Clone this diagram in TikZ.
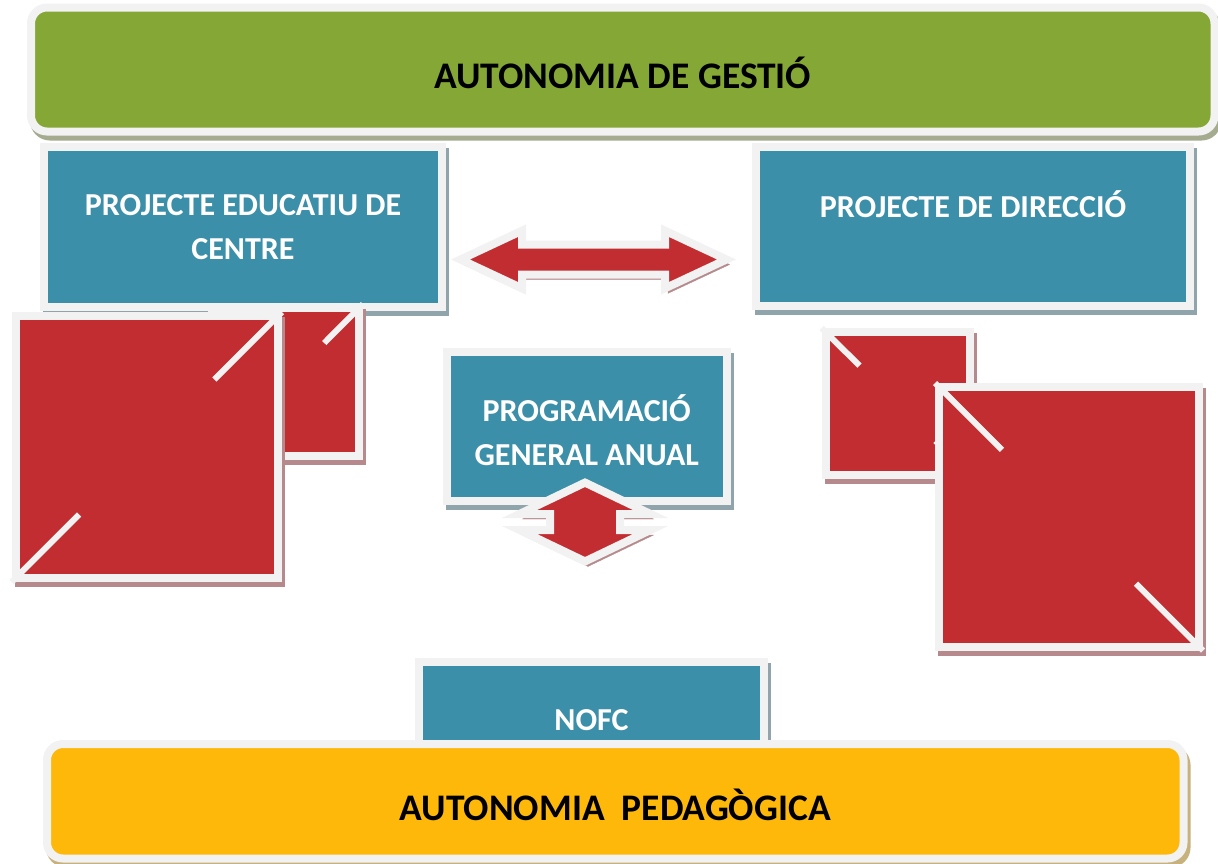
\documentclass[tikz,border=0pt]{standalone}
\usepackage{fontspec}
\setmainfont{Carlito}
\usepackage{tikz}
\usetikzlibrary{positioning,calc,shadows}
\definecolor{gestioclr}{RGB}{132,167,53}
\definecolor{projclr}{RGB}{60,143,168}
\definecolor{squareclr}{RGB}{193,45,48}
\definecolor{pedagclr}{RGB}{253,184,10}
\definecolor{borderclr}{RGB}{242,242,242}
\definecolor{gestioshd}{RGB}{164,171,143}
\definecolor{projshd}{RGB}{143,164,171}
\definecolor{squareshd}{RGB}{182,138,140}
\definecolor{pedagshd}{RGB}{199,177,125}
\tikzset{
  framed/.style={draw=borderclr, line width=8pt, inner sep=0pt,
    drop shadow={shadow xshift=3pt, shadow yshift=-5pt, opacity=1, fill=#1, draw=#1}},
  band/.style={framed=#1, rounded corners=16pt, text=black,
    text height=38pt, text depth=0pt,
    font=\bfseries\fontsize{37.5}{44}\selectfont},
  projbox/.style={framed=projshd, fill=projclr, text=white, align=center,
    font=\bfseries\fontsize{32}{44}\selectfont},
  redsquare/.style={framed=squareshd, fill=squareclr},
  diag/.style={draw=borderclr, line width=6pt},
  blockarrow/.style={framed=squareshd, fill=squareclr},
}
\begin{document}
\begin{tikzpicture}[x=1pt,y=-1pt]
\useasboundingbox (0,0) rectangle (1218,863);
\node[band=gestioshd, fill=gestioclr, minimum width=1183.5pt, minimum height=124pt] (gestio) at (622.75,69.5) {AUTONOMIA DE GESTIÓ};
\node[projbox, minimum width=398pt, minimum height=160pt] (pec) at (243,227) {PROJECTE EDUCATIU DE\\CENTRE};
\node[projbox, minimum width=434pt, minimum height=159pt] (pd) at (973,226.5) {PROJECTE DE DIRECCIÓ\\\phantom{CENTRE}};

% red squares, left pair
\node[redsquare, minimum width=147pt, minimum height=148pt] (sqLb) at (285.5,382) {};
\draw[diag] (sqLb.south west) -- ($(sqLb.south west)!0.25!(sqLb.north east)$)
  ($(sqLb.south west)!0.75!(sqLb.north east)$) -- (sqLb.north east);
\node[redsquare, minimum width=262.5pt, minimum height=262pt] (sqLa) at (146.75,447) {};
\draw[diag] (sqLa.south west) -- ($(sqLa.south west)!0.25!(sqLa.north east)$)
  ($(sqLa.south west)!0.75!(sqLa.north east)$) -- (sqLa.north east);
% red squares, right pair
\node[redsquare, minimum width=144pt, minimum height=142.5pt] (sqRb) at (897.5,403.25) {};
\draw[diag] (sqRb.north west) -- ($(sqRb.north west)!0.25!(sqRb.south east)$)
  ($(sqRb.north west)!0.75!(sqRb.south east)$) -- (sqRb.south east);
\node[redsquare, minimum width=260pt, minimum height=259.5pt] (sqRa) at (1069,516.75) {};
\draw[diag] (sqRa.north west) -- ($(sqRa.north west)!0.25!(sqRa.south east)$)
  ($(sqRa.north west)!0.75!(sqRa.south east)$) -- (sqRa.south east);

\path[blockarrow, shift={(593.5,259.5)}] (-133,0) -- (-71.5,-28.8) -- (-71.5,-15) -- (71.5,-15) -- (71.5,-28.8)
  -- (133,0) -- (71.5,28.8) -- (71.5,15) -- (-71.5,15) -- (-71.5,28.8) -- cycle;

\node[projbox, minimum width=279.5pt, minimum height=149pt, text height=77pt, text depth=0pt] (pga) at (586.75,426.5) {PROGRAMACIÓ\\GENERAL ANUAL};
\path[blockarrow, shift={(585,522)}] (0,-39.4) -- (65.5,-8) -- (35,-8) -- (35,8) -- (65.5,8)
  -- (0,39.4) -- (-65.5,8) -- (-35,8) -- (-35,-8) -- (-65.5,-8) -- cycle;

\node[projbox, minimum width=345pt, minimum height=117pt] (nofc) at (591.5,720) {NOFC};
\node[band=pedagshd, fill=pedagclr, minimum width=1136.5pt, minimum height=114.5pt] (pedag) at (615.25,801.25) {AUTONOMIA~~PEDAGÒGICA};
\end{tikzpicture}
\end{document}
